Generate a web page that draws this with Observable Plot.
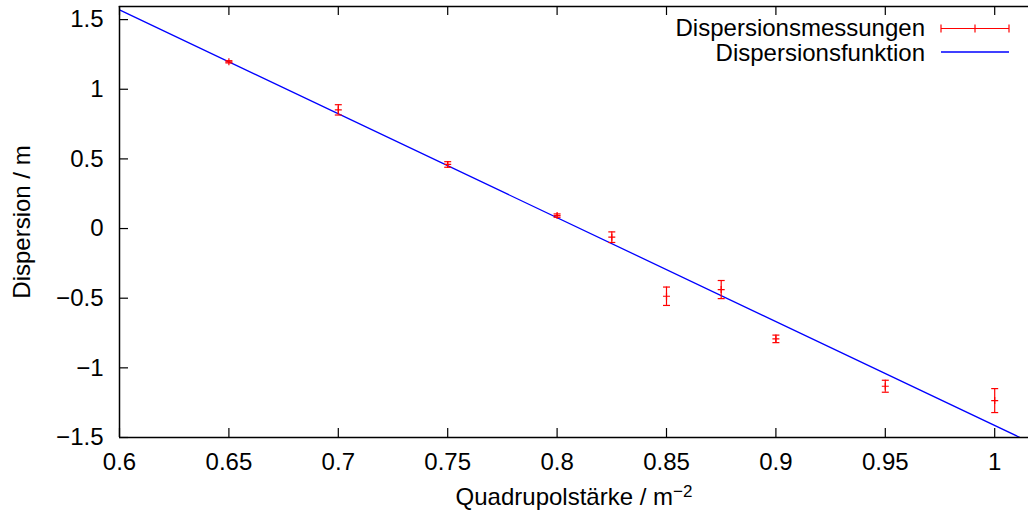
<!DOCTYPE html>
<html>
<head>
<meta charset="utf-8">
<script src="https://cdn.jsdelivr.net/npm/d3@7"></script>
<script src="https://cdn.jsdelivr.net/npm/@observablehq/plot@0.6"></script>
<style>
  html, body { margin: 0; padding: 0; background: #fff; }
  #wrap { position: relative; width: 1028px; height: 517px; overflow: hidden; }
  #legend { position: absolute; left: 0; top: 0; }
  svg text { font-family: "Liberation Sans", Arial, sans-serif; }
</style>
</head>
<body>
<div id="wrap"></div>
<script>
// Data
const quadStrength = [0.65, 0.70, 0.75, 0.80, 0.825, 0.85, 0.875, 0.90, 0.95, 1.00];
const dispersion   = [1.197, 0.852, 0.460, 0.093, -0.062, -0.486, -0.438, -0.792, -1.132, -1.235];
const dispError    = [0.008, 0.037, 0.020, 0.012, 0.038, 0.066, 0.065, 0.027, 0.043, 0.086];
// Fit (Dispersionsfunktion): D(k) = fitIntercept + fitSlope * (k - 0.6)
const fitIntercept = 1.57;
const fitSlope = -7.46;
const xTicks = [0.6, 0.65, 0.7, 0.75, 0.8, 0.85, 0.9, 0.95, 1.0];
const yTicks = [-1.5, -1, -0.5, 0, 0.5, 1, 1.5];
const legendLabels = ["Dispersionsmessungen", "Dispersionsfunktion"];
const xLabel = "Quadrupolstärke / m";
const xLabelSup = "−2";
const yLabel = "Dispersion / m";

const points = quadStrength.map((k, i) => ({k, d: dispersion[i], e: dispError[i]}));
const fitX = [0.6, 1.02];
const fit = fitX.map(k => ({k, d: fitIntercept + fitSlope * (k - 0.6)}));

const W = 1028, H = 517;
const mL = 119, mR = 0, mT = 6, mB = 80;
const plotW = W - mL - mR, plotH = H - mT - mB;
const red = "#ff0000", blue = "#0000ff";
const FS = 24;

const capSym = { draw(ctx, size) { const w = 3.5; ctx.moveTo(-w, 0); ctx.lineTo(w, 0); } };
const plusSym = { draw(ctx, size) { const w = 3.5; ctx.moveTo(-w, 0); ctx.lineTo(w, 0); ctx.moveTo(0, -w); ctx.lineTo(0, w); } };

const chart = Plot.plot({
  width: W, height: H,
  marginLeft: mL, marginRight: mR, marginTop: mT, marginBottom: mB,
  style: { fontFamily: "'Liberation Sans', Arial, sans-serif", fontSize: FS + "px", background: "white", overflow: "visible" },
  x: { domain: [0.6, 0.6 + plotW / 2188], axis: null },
  y: { domain: [-1.5, -1.5 + plotH / 139.3], axis: null },
  marks: [
    // tick labels
    Plot.axisX(xTicks, { anchor: "bottom", tickSize: 0, tickPadding: 15, fontSize: FS, fill: "#000", tickFormat: d => d3.format("")(d).replace("-", "−"), label: null }),
    Plot.axisY(yTicks, { anchor: "left", tickSize: 0, tickPadding: 16, fontSize: FS, fill: "#000", tickFormat: d => String(d).replace("-", "−"), label: null }),
    // inward ticks
    Plot.ruleX(xTicks, { x: d => d, insetTop: plotH - 9, stroke: "#000", strokeWidth: 1.2 }),
    Plot.ruleX(xTicks, { x: d => d, insetBottom: plotH - 9, stroke: "#000", strokeWidth: 1.2 }),
    Plot.ruleY(yTicks, { y: d => d, insetRight: plotW - 9, stroke: "#000", strokeWidth: 1.2 }),
    // fit line
    Plot.line(fit, { x: "k", y: "d", stroke: blue, strokeWidth: 1.3, clip: true }),
    // error bars
    Plot.ruleX(points, { x: "k", y1: d => d.d - d.e, y2: d => d.d + d.e, stroke: red, strokeWidth: 1.2 }),
    Plot.dot(points, { x: "k", y: d => d.d - d.e, symbol: capSym, stroke: red, strokeWidth: 1.2, fill: "none", r: 3 }),
    Plot.dot(points, { x: "k", y: d => d.d + d.e, symbol: capSym, stroke: red, strokeWidth: 1.2, fill: "none", r: 3 }),
    Plot.dot(points, { x: "k", y: "d", symbol: plusSym, stroke: red, strokeWidth: 1.2, fill: "none", r: 3 }),
    // frame (left, top, bottom)
    Plot.ruleX([0.6], { stroke: "#000", strokeWidth: 1.5 }),
    Plot.ruleY([-1.5], { stroke: "#000", strokeWidth: 1.5 }),
    Plot.frame({ anchor: "top", stroke: "#000", strokeWidth: 1.5 }),
    // axis titles
    Plot.text([xLabel], { frameAnchor: "bottom", dy: 67, text: d => d, fontSize: FS, fill: "#000", textAnchor: "middle", className: "xlab" }),
    Plot.text([yLabel], { frameAnchor: "left", dx: -97, text: d => d, fontSize: FS, fill: "#000", rotate: -90, textAnchor: "middle", className: "ylab" })
  ]
});

document.getElementById("wrap").appendChild(chart);

// superscript on x label
const xl = d3.select(chart).select(".xlab text");
xl.append("tspan").attr("dy", "-0.45em").attr("font-size", "17px").text(xLabelSup);

// legend overlay
const lg = d3.select("#wrap").append("svg").attr("id", "legend").attr("width", W).attr("height", 80);
lg.append("text").attr("x", 925).attr("y", 36).attr("text-anchor", "end").attr("font-size", FS).text(legendLabels[0]);
lg.append("text").attr("x", 925).attr("y", 61).attr("text-anchor", "end").attr("font-size", FS).text(legendLabels[1]);
const lr = lg.append("g").attr("stroke", red).attr("stroke-width", 1.2);
lr.append("line").attr("x1", 941).attr("x2", 1009).attr("y1", 28.5).attr("y2", 28.5);
[941, 975, 1009].forEach(x => lr.append("line").attr("x1", x).attr("x2", x).attr("y1", 24.5).attr("y2", 32.5));
lg.append("line").attr("x1", 941).attr("x2", 1009).attr("y1", 52).attr("y2", 52).attr("stroke", blue).attr("stroke-width", 1.3);
</script>
</body>
</html>
